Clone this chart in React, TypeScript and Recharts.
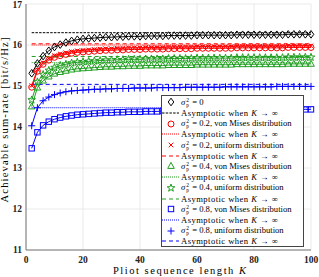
import React from 'react';
import { LineChart, Line, XAxis, YAxis, CartesianGrid, ReferenceLine } from 'recharts';

// Pilot sequence length K (markers every 2)
const pilotLength = [
  2, 4, 6, 8, 10, 12, 14, 16, 18, 20, 22, 24, 26, 28, 30, 32, 34, 36, 38, 40,
  42, 44, 46, 48, 50, 52, 54, 56, 58, 60, 62, 64, 66, 68, 70, 72, 74, 76, 78, 80,
  82, 84, 86, 88, 90, 92, 94, 96, 98, 100,
];

// sigma_p^2 = 0
const noError = [
  15.31, 15.55, 15.73, 15.86, 15.95, 16.01, 16.06, 16.1, 16.13, 16.15,
  16.16, 16.17, 16.18, 16.19, 16.19, 16.2, 16.2, 16.21, 16.21, 16.21,
  16.22, 16.22, 16.22, 16.22, 16.23, 16.23, 16.23, 16.23, 16.23, 16.24,
  16.24, 16.24, 16.24, 16.24, 16.24, 16.24, 16.25, 16.25, 16.25, 16.25,
  16.25, 16.25, 16.25, 16.25, 16.25, 16.26, 16.26, 16.26, 16.26, 16.26,
];
// sigma_p^2 = 0.2
const vonMises02 = [
  14.97, 15.36, 15.53, 15.63, 15.7, 15.74, 15.77, 15.8, 15.82, 15.83,
  15.84, 15.85, 15.86, 15.87, 15.87, 15.88, 15.88, 15.89, 15.89, 15.89,
  15.9, 15.9, 15.9, 15.9, 15.91, 15.91, 15.91, 15.91, 15.91, 15.92,
  15.92, 15.92, 15.92, 15.92, 15.92, 15.92, 15.93, 15.93, 15.93, 15.93,
  15.93, 15.93, 15.93, 15.93, 15.93, 15.94, 15.94, 15.94, 15.94, 15.94,
];
const uniform02 = [
  15.01, 15.4, 15.57, 15.67, 15.74, 15.78, 15.81, 15.84, 15.86, 15.87,
  15.88, 15.89, 15.9, 15.91, 15.91, 15.92, 15.92, 15.93, 15.93, 15.93,
  15.94, 15.94, 15.94, 15.94, 15.95, 15.95, 15.95, 15.95, 15.95, 15.96,
  15.96, 15.96, 15.96, 15.96, 15.96, 15.96, 15.97, 15.97, 15.97, 15.97,
  15.97, 15.97, 15.97, 15.97, 15.97, 15.98, 15.98, 15.98, 15.98, 15.98,
];
// sigma_p^2 = 0.4
const vonMises04 = [
  14.5, 14.96, 15.13, 15.23, 15.3, 15.34, 15.37, 15.4, 15.42, 15.43,
  15.44, 15.45, 15.46, 15.47, 15.47, 15.48, 15.48, 15.49, 15.49, 15.49,
  15.5, 15.5, 15.5, 15.5, 15.51, 15.51, 15.51, 15.51, 15.51, 15.52,
  15.52, 15.52, 15.52, 15.52, 15.52, 15.52, 15.53, 15.53, 15.53, 15.53,
  15.53, 15.53, 15.53, 15.53, 15.53, 15.54, 15.54, 15.54, 15.54, 15.54,
];
const uniform04 = [
  14.66, 15.1, 15.28, 15.38, 15.45, 15.5, 15.53, 15.56, 15.58, 15.59,
  15.6, 15.61, 15.62, 15.63, 15.63, 15.64, 15.64, 15.65, 15.65, 15.65,
  15.66, 15.66, 15.66, 15.66, 15.67, 15.67, 15.67, 15.67, 15.67, 15.68,
  15.68, 15.68, 15.68, 15.68, 15.68, 15.68, 15.69, 15.69, 15.69, 15.69,
  15.69, 15.69, 15.69, 15.69, 15.69, 15.7, 15.7, 15.7, 15.7, 15.7,
];
// sigma_p^2 = 0.8
const vonMises08 = [
  13.48, 13.87, 14.04, 14.13, 14.19, 14.23, 14.26, 14.28, 14.3, 14.31,
  14.32, 14.33, 14.34, 14.35, 14.35, 14.36, 14.36, 14.37, 14.37, 14.37,
  14.38, 14.38, 14.38, 14.39, 14.39, 14.39, 14.39, 14.4, 14.4, 14.4,
  14.4, 14.4, 14.4, 14.41, 14.41, 14.41, 14.41, 14.41, 14.41, 14.42,
  14.42, 14.42, 14.42, 14.42, 14.42, 14.42, 14.43, 14.43, 14.43, 14.43,
];
const uniform08 = [
  14.03, 14.47, 14.64, 14.73, 14.79, 14.83, 14.86, 14.88, 14.89, 14.9,
  14.91, 14.92, 14.92, 14.93, 14.93, 14.94, 14.94, 14.94, 14.95, 14.95,
  14.95, 14.95, 14.96, 14.96, 14.96, 14.96, 14.96, 14.97, 14.97, 14.97,
  14.97, 14.97, 14.97, 14.97, 14.98, 14.98, 14.98, 14.98, 14.98, 14.98,
  14.98, 14.98, 14.98, 14.99, 14.99, 14.99, 14.99, 14.99, 14.99, 14.99,
];

// asymptotic values when K -> infinity
const asymptotes = {
  noError: 16.3,
  vonMises02: 16.0,
  uniform02: 16.03,
  vonMises04: 15.57,
  uniform04: 15.72,
  vonMises08: 14.47,
  uniform08: 15.04,
};

const xTicks = [0, 20, 40, 60, 80, 100];
const yTicks = [11, 12, 13, 14, 15, 16, 17];

const BLACK = '#000000';
const RED = '#ff0000';
const GREEN = '#1f9e1f';
const BLUE = '#0000ff';
const DOTTED = '1 1';
const DASHED = '4 3';
const FINE_DASH = '2.5 1.2';
const SERIF = '"Liberation Serif", serif';

const data = pilotLength.map((k, i) => ({
  k,
  noError: noError[i],
  vonMises02: vonMises02[i],
  uniform02: uniform02[i],
  vonMises04: vonMises04[i],
  uniform04: uniform04[i],
  vonMises08: vonMises08[i],
  uniform08: uniform08[i],
}));

const Marker = ({ shape, cx, cy, color }) => {
  const common = { fill: 'none', stroke: color, strokeWidth: 1 };
  switch (shape) {
    case 'diamond':
      return <polygon points={`${cx},${cy - 3.8} ${cx + 2.8},${cy} ${cx},${cy + 3.8} ${cx - 2.8},${cy}`} {...common} />;
    case 'circle':
      return <circle cx={cx} cy={cy} r={3} {...common} />;
    case 'cross':
      return (
        <g {...common}>
          <line x1={cx - 2.3} y1={cy - 2.3} x2={cx + 2.3} y2={cy + 2.3} />
          <line x1={cx - 2.3} y1={cy + 2.3} x2={cx + 2.3} y2={cy - 2.3} />
        </g>
      );
    case 'triangle':
      return <polygon points={`${cx},${cy - 3.6} ${cx + 3.3},${cy + 2.4} ${cx - 3.3},${cy + 2.4}`} {...common} />;
    case 'star': {
      const pts = [];
      for (let j = 0; j < 10; j++) {
        const r = j % 2 === 0 ? 4 : 1.6;
        const a = -Math.PI / 2 + (j * Math.PI) / 5;
        pts.push(`${cx + r * Math.cos(a)},${cy + r * Math.sin(a)}`);
      }
      return <polygon points={pts.join(' ')} {...common} />;
    }
    case 'square':
      return <rect x={cx - 2.7} y={cy - 2.7} width={5.4} height={5.4} {...common} />;
    case 'plus':
      return (
        <g {...common}>
          <line x1={cx - 3.5} y1={cy} x2={cx + 3.5} y2={cy} />
          <line x1={cx} y1={cy - 3.5} x2={cx} y2={cy + 3.5} />
        </g>
      );
    default:
      return null;
  }
};

const makeDot = (shape, color) => (props) => {
  const { cx, cy, index } = props;
  if (cx == null || cy == null) return <g key={index} />;
  return (
    <g key={index}>
      <Marker shape={shape} cx={cx} cy={cy} color={color} />
    </g>
  );
};

const Sigma = () => (
  <span>
    <i>σ</i>
    <span style={{ display: 'inline-flex', flexDirection: 'column', fontSize: 5.5, lineHeight: '5px', verticalAlign: 'middle', margin: '0 1px' }}>
      <span>2</span>
      <span>p</span>
    </span>
  </span>
);

const asymText = (
  <span style={{ letterSpacing: 0.45 }}>
    Asymptotic when <i>K</i> → ∞
  </span>
);

const legendRows = [
  { marker: 'diamond', color: BLACK, label: <span><Sigma /> = 0</span> },
  { dash: FINE_DASH, color: BLACK, label: asymText },
  { marker: 'circle', color: RED, label: <span><Sigma /> = 0.2, von Mises distribution</span> },
  { dash: DOTTED, color: RED, label: asymText },
  { marker: 'cross', color: RED, label: <span><Sigma /> = 0.2, uniform distribution</span> },
  { dash: DASHED, color: RED, label: asymText },
  { marker: 'triangle', color: GREEN, label: <span><Sigma /> = 0.4, von Mises distribution</span> },
  { dash: DOTTED, color: GREEN, label: asymText },
  { marker: 'star', color: GREEN, label: <span><Sigma /> = 0.4, uniform distribution</span> },
  { dash: DASHED, color: GREEN, label: asymText },
  { marker: 'square', color: BLUE, label: <span><Sigma /> = 0.8, von Mises distribution</span> },
  { dash: DOTTED, color: BLUE, label: asymText },
  { marker: 'plus', color: BLUE, label: <span><Sigma /> = 0.8, uniform distribution</span> },
  { dash: DASHED, color: BLUE, label: asymText },
];

const ChartLegend = () => (
  <div
    style={{
      position: 'absolute',
      left: 161,
      top: 95,
      width: 143,
      height: 152,
      boxSizing: 'border-box',
      border: '1px solid #444',
      background: '#fff',
      fontFamily: SERIF,
      fontSize: 8.6,
      color: '#000',
      paddingTop: 1,
    }}
  >
    {legendRows.map((row, i) => (
      <div key={i} style={{ display: 'flex', alignItems: 'center', height: 10.7, whiteSpace: 'nowrap' }}>
        <svg width={18} height={10} style={{ flex: 'none' }}>
          {row.marker ? (
            <Marker shape={row.marker} cx={9} cy={5} color={row.color} />
          ) : (
            <line x1={0} y1={5} x2={17} y2={5} stroke={row.color} strokeWidth={1} strokeDasharray={row.dash} />
          )}
        </svg>
        <span style={{ marginLeft: 1 }}>{row.label}</span>
      </div>
    ))}
  </div>
);

const YLabel = () => (
  <text
    transform="translate(8,120) rotate(-90)"
    textAnchor="middle"
    fontFamily={SERIF}
    fontSize={10.5}
    textLength={165}
    lengthAdjust="spacing"
    fill="#000"
  >
    Achievable sum-rate [bit/s/Hz]
  </text>
);

const XLabel = () => (
  <text x={179.5} y={274} textAnchor="middle" fontFamily={SERIF} fontSize={10.5} textLength={133} lengthAdjust="spacing" fill="#000">
    Pliot sequence length <tspan fontStyle="italic">K</tspan>
  </text>
);

const tickStyle = { fontFamily: SERIF, fontSize: 9.5, fontWeight: 'bold', fill: '#222' };

const series = [
  { key: 'noError', shape: 'diamond', color: BLACK, dash: FINE_DASH },
  { key: 'vonMises02', shape: 'circle', color: RED, dash: DOTTED },
  { key: 'uniform02', shape: 'cross', color: RED, dash: DASHED },
  { key: 'vonMises04', shape: 'triangle', color: GREEN, dash: DOTTED },
  { key: 'uniform04', shape: 'star', color: GREEN, dash: DASHED },
  { key: 'vonMises08', shape: 'square', color: BLUE, dash: DOTTED },
  { key: 'uniform08', shape: 'plus', color: BLUE, dash: DASHED },
];

export default function App() {
  return (
    <div style={{ position: 'absolute', left: 0, top: 0, width: 319, height: 277, background: '#fff' }}>
      <LineChart width={319} height={277} data={data} margin={{ top: 4, right: 8, bottom: 0, left: 0 }}>
        <CartesianGrid stroke="#e4e4e4" strokeWidth={0.8} />
        <XAxis
          dataKey="k"
          type="number"
          domain={[0, 100]}
          ticks={xTicks}
          height={27}
          tickLine={false}
          tickMargin={0}
          stroke="#777"
          tick={tickStyle}
          label={<XLabel />}
        />
        <YAxis
          type="number"
          domain={[11, 17]}
          ticks={yTicks}
          width={26}
          tickLine={false}
          tickSize={3}
          tickMargin={1}
          stroke="#777"
          tick={tickStyle}
          label={<YLabel />}
        />
        <XAxis xAxisId="top" orientation="top" dataKey="k" type="number" domain={[0, 100]} tick={false} tickLine={false} height={0} stroke="#777" />
        <YAxis yAxisId="right" orientation="right" domain={[11, 17]} tick={false} tickLine={false} width={0} stroke="#777" />
        {series.map((s) => [
          <Line
            key={s.key}
            dataKey={s.key}
            stroke={s.color}
            strokeWidth={1}
            dot={makeDot(s.shape, s.color)}
            activeDot={false}
            isAnimationActive={false}
          />,
          <ReferenceLine
            key={s.key + '-asym'}
            segment={[
              { x: 2, y: asymptotes[s.key] },
              { x: 100, y: asymptotes[s.key] },
            ]}
            stroke={s.color}
            strokeWidth={1}
            strokeDasharray={s.dash}
          />,
        ])}
      </LineChart>
      <ChartLegend />
    </div>
  );
}
